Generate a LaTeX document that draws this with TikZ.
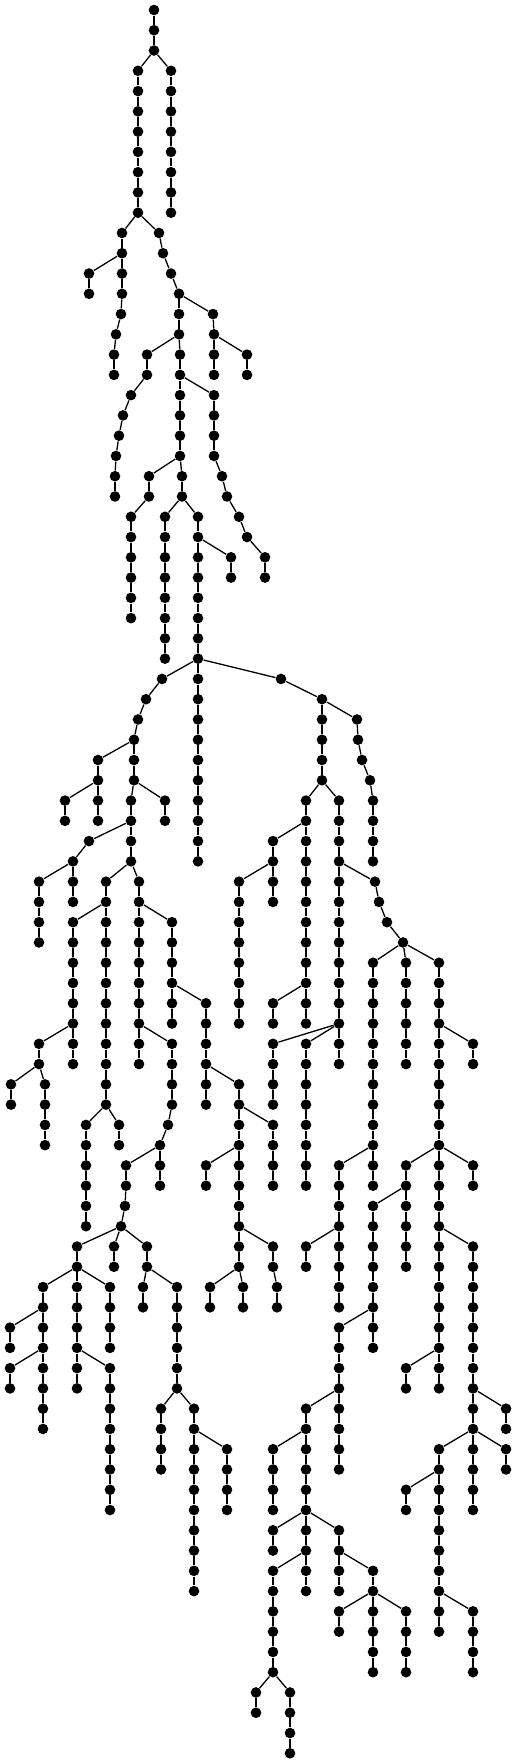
\documentclass[tikz,border=0pt]{standalone}
\usepackage{tikz}
\newcommand{\vtx}[2]{\node[vertex] (#1-#2) at (#2,#1) {};}  % layer, x
\tikzset{
  vertex/.style={
    circle,
    fill,
    inner sep=0pt,
    minimum size=5.3pt
  },
  tree edge/.style={
    draw,
    line width=0.65pt
  },
  layers/.style={
    x=0.5pt,      % one pixel
    y=-10.135pt   % one layer
  }
}
\begin{document}
\begin{tikzpicture}[layers]
\useasboundingbox (0,-0.4933) rectangle (516,86.48);
% Vertices, one line per layer
\vtx{0}{154}
\vtx{1}{154}
\vtx{2}{154}
\vtx{3}{138}\vtx{3}{171}
\vtx{4}{138}\vtx{4}{171}
\vtx{5}{138}\vtx{5}{171}
\vtx{6}{138}\vtx{6}{171}
\vtx{7}{138}\vtx{7}{171}
\vtx{8}{138}\vtx{8}{171}
\vtx{9}{138}\vtx{9}{171}
\vtx{10}{138}\vtx{10}{171}
\vtx{11}{122}\vtx{11}{159}
\vtx{12}{122}\vtx{12}{163}
\vtx{13}{89}\vtx{13}{122}\vtx{13}{171}
\vtx{14}{89}\vtx{14}{122}\vtx{14}{179}
\vtx{15}{121}\vtx{15}{179}\vtx{15}{213}
\vtx{16}{116}\vtx{16}{179}\vtx{16}{214}
\vtx{17}{114}\vtx{17}{147}\vtx{17}{180}\vtx{17}{214}\vtx{17}{247}
\vtx{18}{114}\vtx{18}{147}\vtx{18}{180}\vtx{18}{214}\vtx{18}{247}
\vtx{19}{131}\vtx{19}{180}\vtx{19}{214}
\vtx{20}{123}\vtx{20}{180}\vtx{20}{214}
\vtx{21}{119}\vtx{21}{180}\vtx{21}{214}
\vtx{22}{116}\vtx{22}{180}\vtx{22}{214}
\vtx{23}{115}\vtx{23}{149}\vtx{23}{182}\vtx{23}{222}
\vtx{24}{115}\vtx{24}{149}\vtx{24}{182}\vtx{24}{227}
\vtx{25}{131}\vtx{25}{165}\vtx{25}{198}\vtx{25}{239}
\vtx{26}{131}\vtx{26}{165}\vtx{26}{198}\vtx{26}{247}
\vtx{27}{131}\vtx{27}{165}\vtx{27}{198}\vtx{27}{231}\vtx{27}{265}
\vtx{28}{131}\vtx{28}{165}\vtx{28}{198}\vtx{28}{231}\vtx{28}{265}
\vtx{29}{131}\vtx{29}{165}\vtx{29}{198}
\vtx{30}{131}\vtx{30}{165}\vtx{30}{198}
\vtx{31}{165}\vtx{31}{198}
\vtx{32}{165}\vtx{32}{198}
\vtx{33}{162}\vtx{33}{198}\vtx{33}{281}
\vtx{34}{146}\vtx{34}{198}\vtx{34}{322}
\vtx{35}{138}\vtx{35}{198}\vtx{35}{322}\vtx{35}{357}
\vtx{36}{134}\vtx{36}{198}\vtx{36}{322}\vtx{36}{358}
\vtx{37}{98}\vtx{37}{134}\vtx{37}{198}\vtx{37}{322}\vtx{37}{362}
\vtx{38}{98}\vtx{38}{134}\vtx{38}{198}\vtx{38}{322}\vtx{38}{370}
\vtx{39}{65}\vtx{39}{98}\vtx{39}{131}\vtx{39}{165}\vtx{39}{198}\vtx{39}{306}\vtx{39}{339}\vtx{39}{373}
\vtx{40}{65}\vtx{40}{98}\vtx{40}{131}\vtx{40}{165}\vtx{40}{198}\vtx{40}{306}\vtx{40}{339}\vtx{40}{373}
\vtx{41}{89}\vtx{41}{131}\vtx{41}{198}\vtx{41}{273}\vtx{41}{306}\vtx{41}{339}\vtx{41}{373}
\vtx{42}{73}\vtx{42}{131}\vtx{42}{198}\vtx{42}{273}\vtx{42}{306}\vtx{42}{339}\vtx{42}{373}
\vtx{43}{39}\vtx{43}{73}\vtx{43}{106}\vtx{43}{139}\vtx{43}{239}\vtx{43}{273}\vtx{43}{306}\vtx{43}{339}\vtx{43}{375}
\vtx{44}{39}\vtx{44}{73}\vtx{44}{106}\vtx{44}{139}\vtx{44}{239}\vtx{44}{273}\vtx{44}{306}\vtx{44}{339}\vtx{44}{379}
\vtx{45}{39}\vtx{45}{73}\vtx{45}{106}\vtx{45}{139}\vtx{45}{172}\vtx{45}{239}\vtx{45}{306}\vtx{45}{339}\vtx{45}{387}
\vtx{46}{39}\vtx{46}{73}\vtx{46}{106}\vtx{46}{139}\vtx{46}{172}\vtx{46}{239}\vtx{46}{306}\vtx{46}{339}\vtx{46}{403}
\vtx{47}{73}\vtx{47}{106}\vtx{47}{139}\vtx{47}{172}\vtx{47}{239}\vtx{47}{306}\vtx{47}{339}\vtx{47}{373}\vtx{47}{406}\vtx{47}{439}
\vtx{48}{73}\vtx{48}{106}\vtx{48}{139}\vtx{48}{172}\vtx{48}{239}\vtx{48}{306}\vtx{48}{339}\vtx{48}{373}\vtx{48}{406}\vtx{48}{439}
\vtx{49}{73}\vtx{49}{106}\vtx{49}{139}\vtx{49}{172}\vtx{49}{206}\vtx{49}{239}\vtx{49}{273}\vtx{49}{306}\vtx{49}{339}\vtx{49}{373}\vtx{49}{406}\vtx{49}{439}
\vtx{50}{73}\vtx{50}{106}\vtx{50}{139}\vtx{50}{172}\vtx{50}{206}\vtx{50}{239}\vtx{50}{273}\vtx{50}{306}\vtx{50}{339}\vtx{50}{373}\vtx{50}{406}\vtx{50}{439}
\vtx{51}{39}\vtx{51}{73}\vtx{51}{106}\vtx{51}{139}\vtx{51}{172}\vtx{51}{206}\vtx{51}{273}\vtx{51}{306}\vtx{51}{339}\vtx{51}{373}\vtx{51}{406}\vtx{51}{439}\vtx{51}{473}
\vtx{52}{39}\vtx{52}{73}\vtx{52}{106}\vtx{52}{139}\vtx{52}{172}\vtx{52}{206}\vtx{52}{273}\vtx{52}{306}\vtx{52}{339}\vtx{52}{373}\vtx{52}{406}\vtx{52}{439}\vtx{52}{473}
\vtx{53}{11}\vtx{53}{45}\vtx{53}{106}\vtx{53}{172}\vtx{53}{206}\vtx{53}{239}\vtx{53}{273}\vtx{53}{306}\vtx{53}{373}\vtx{53}{439}
\vtx{54}{11}\vtx{54}{45}\vtx{54}{106}\vtx{54}{172}\vtx{54}{206}\vtx{54}{239}\vtx{54}{273}\vtx{54}{306}\vtx{54}{373}\vtx{54}{439}
\vtx{55}{45}\vtx{55}{86}\vtx{55}{119}\vtx{55}{168}\vtx{55}{239}\vtx{55}{273}\vtx{55}{306}\vtx{55}{373}\vtx{55}{439}
\vtx{56}{45}\vtx{56}{86}\vtx{56}{119}\vtx{56}{160}\vtx{56}{239}\vtx{56}{273}\vtx{56}{306}\vtx{56}{373}\vtx{56}{439}
\vtx{57}{86}\vtx{57}{126}\vtx{57}{160}\vtx{57}{206}\vtx{57}{239}\vtx{57}{273}\vtx{57}{306}\vtx{57}{339}\vtx{57}{373}\vtx{57}{406}\vtx{57}{439}\vtx{57}{473}
\vtx{58}{86}\vtx{58}{126}\vtx{58}{160}\vtx{58}{206}\vtx{58}{239}\vtx{58}{273}\vtx{58}{306}\vtx{58}{339}\vtx{58}{373}\vtx{58}{406}\vtx{58}{439}\vtx{58}{473}
\vtx{59}{86}\vtx{59}{125}\vtx{59}{239}\vtx{59}{339}\vtx{59}{373}\vtx{59}{406}\vtx{59}{439}
\vtx{60}{86}\vtx{60}{121}\vtx{60}{239}\vtx{60}{339}\vtx{60}{373}\vtx{60}{406}\vtx{60}{439}
\vtx{61}{77}\vtx{61}{114}\vtx{61}{147}\vtx{61}{239}\vtx{61}{273}\vtx{61}{306}\vtx{61}{339}\vtx{61}{373}\vtx{61}{406}\vtx{61}{439}\vtx{61}{473}
\vtx{62}{77}\vtx{62}{114}\vtx{62}{147}\vtx{62}{239}\vtx{62}{273}\vtx{62}{306}\vtx{62}{339}\vtx{62}{373}\vtx{62}{406}\vtx{62}{439}\vtx{62}{473}
\vtx{63}{43}\vtx{63}{77}\vtx{63}{110}\vtx{63}{143}\vtx{63}{177}\vtx{63}{210}\vtx{63}{243}\vtx{63}{277}\vtx{63}{339}\vtx{63}{373}\vtx{63}{439}\vtx{63}{473}
\vtx{64}{43}\vtx{64}{77}\vtx{64}{110}\vtx{64}{143}\vtx{64}{177}\vtx{64}{210}\vtx{64}{243}\vtx{64}{277}\vtx{64}{339}\vtx{64}{373}\vtx{64}{439}\vtx{64}{473}
\vtx{65}{10}\vtx{65}{43}\vtx{65}{77}\vtx{65}{110}\vtx{65}{177}\vtx{65}{339}\vtx{65}{373}\vtx{65}{439}\vtx{65}{473}
\vtx{66}{10}\vtx{66}{43}\vtx{66}{77}\vtx{66}{110}\vtx{66}{177}\vtx{66}{339}\vtx{66}{373}\vtx{66}{439}\vtx{66}{473}
\vtx{67}{10}\vtx{67}{43}\vtx{67}{77}\vtx{67}{110}\vtx{67}{177}\vtx{67}{339}\vtx{67}{406}\vtx{67}{439}\vtx{67}{473}
\vtx{68}{10}\vtx{68}{43}\vtx{68}{77}\vtx{68}{110}\vtx{68}{177}\vtx{68}{339}\vtx{68}{406}\vtx{68}{439}\vtx{68}{473}
\vtx{69}{43}\vtx{69}{110}\vtx{69}{161}\vtx{69}{194}\vtx{69}{306}\vtx{69}{339}\vtx{69}{473}\vtx{69}{506}
\vtx{70}{43}\vtx{70}{110}\vtx{70}{161}\vtx{70}{194}\vtx{70}{306}\vtx{70}{339}\vtx{70}{473}\vtx{70}{506}
\vtx{71}{110}\vtx{71}{161}\vtx{71}{194}\vtx{71}{227}\vtx{71}{273}\vtx{71}{306}\vtx{71}{339}\vtx{71}{439}\vtx{71}{473}\vtx{71}{506}
\vtx{72}{110}\vtx{72}{161}\vtx{72}{194}\vtx{72}{227}\vtx{72}{273}\vtx{72}{306}\vtx{72}{339}\vtx{72}{439}\vtx{72}{473}\vtx{72}{506}
\vtx{73}{110}\vtx{73}{194}\vtx{73}{227}\vtx{73}{273}\vtx{73}{306}\vtx{73}{406}\vtx{73}{439}\vtx{73}{473}
\vtx{74}{110}\vtx{74}{194}\vtx{74}{227}\vtx{74}{273}\vtx{74}{306}\vtx{74}{406}\vtx{74}{439}\vtx{74}{473}
\vtx{75}{194}\vtx{75}{273}\vtx{75}{306}\vtx{75}{339}\vtx{75}{439}
\vtx{76}{194}\vtx{76}{273}\vtx{76}{306}\vtx{76}{339}\vtx{76}{439}
\vtx{77}{194}\vtx{77}{273}\vtx{77}{306}\vtx{77}{339}\vtx{77}{373}\vtx{77}{439}
\vtx{78}{194}\vtx{78}{273}\vtx{78}{306}\vtx{78}{339}\vtx{78}{373}\vtx{78}{439}
\vtx{79}{273}\vtx{79}{339}\vtx{79}{373}\vtx{79}{406}\vtx{79}{439}\vtx{79}{473}
\vtx{80}{273}\vtx{80}{339}\vtx{80}{373}\vtx{80}{406}\vtx{80}{439}\vtx{80}{473}
\vtx{81}{273}\vtx{81}{373}\vtx{81}{406}\vtx{81}{473}
\vtx{82}{273}\vtx{82}{373}\vtx{82}{406}\vtx{82}{473}
\vtx{83}{256}\vtx{83}{290}
\vtx{84}{256}\vtx{84}{290}
\vtx{85}{290}
\vtx{86}{290}
% Edges, parent to child, one line per layer
\path[tree edge]
  (0-154) edge (1-154)
  (1-154) edge (2-154)
  (2-154) edge (3-138) (2-154) edge (3-171)
  (3-138) edge (4-138) (3-171) edge (4-171)
  (4-138) edge (5-138) (4-171) edge (5-171)
  (5-138) edge (6-138) (5-171) edge (6-171)
  (6-138) edge (7-138) (6-171) edge (7-171)
  (7-138) edge (8-138) (7-171) edge (8-171)
  (8-138) edge (9-138) (8-171) edge (9-171)
  (9-138) edge (10-138) (9-171) edge (10-171)
  (10-138) edge (11-122) (10-138) edge (11-159)
  (11-122) edge (12-122) (11-159) edge (12-163)
  (12-122) edge (13-89) (12-122) edge (13-122) (12-163) edge (13-171)
  (13-89) edge (14-89) (13-122) edge (14-122) (13-171) edge (14-179)
  (14-122) edge (15-121) (14-179) edge (15-179) (14-179) edge (15-213)
  (15-121) edge (16-116) (15-179) edge (16-179) (15-213) edge (16-214)
  (16-116) edge (17-114) (16-179) edge (17-147) (16-179) edge (17-180) (16-214) edge (17-214) (16-214) edge (17-247)
  (17-114) edge (18-114) (17-147) edge (18-147) (17-180) edge (18-180) (17-214) edge (18-214) (17-247) edge (18-247)
  (18-147) edge (19-131) (18-180) edge (19-180) (18-180) edge (19-214)
  (19-131) edge (20-123) (19-180) edge (20-180) (19-214) edge (20-214)
  (20-123) edge (21-119) (20-180) edge (21-180) (20-214) edge (21-214)
  (21-119) edge (22-116) (21-180) edge (22-180) (21-214) edge (22-214)
  (22-116) edge (23-115) (22-180) edge (23-149) (22-180) edge (23-182) (22-214) edge (23-222)
  (23-115) edge (24-115) (23-149) edge (24-149) (23-182) edge (24-182) (23-222) edge (24-227)
  (24-149) edge (25-131) (24-182) edge (25-165) (24-182) edge (25-198) (24-227) edge (25-239)
  (25-131) edge (26-131) (25-165) edge (26-165) (25-198) edge (26-198) (25-239) edge (26-247)
  (26-131) edge (27-131) (26-165) edge (27-165) (26-198) edge (27-198) (26-198) edge (27-231) (26-247) edge (27-265)
  (27-131) edge (28-131) (27-165) edge (28-165) (27-198) edge (28-198) (27-231) edge (28-231) (27-265) edge (28-265)
  (28-131) edge (29-131) (28-165) edge (29-165) (28-198) edge (29-198)
  (29-131) edge (30-131) (29-165) edge (30-165) (29-198) edge (30-198)
  (30-165) edge (31-165) (30-198) edge (31-198)
  (31-165) edge (32-165) (31-198) edge (32-198)
  (32-198) edge (33-162) (32-198) edge (33-198) (32-198) edge (33-281)
  (33-162) edge (34-146) (33-198) edge (34-198) (33-281) edge (34-322)
  (34-146) edge (35-138) (34-198) edge (35-198) (34-322) edge (35-322) (34-322) edge (35-357)
  (35-138) edge (36-134) (35-198) edge (36-198) (35-322) edge (36-322) (35-357) edge (36-358)
  (36-134) edge (37-98) (36-134) edge (37-134) (36-198) edge (37-198) (36-322) edge (37-322) (36-358) edge (37-362)
  (37-98) edge (38-98) (37-134) edge (38-134) (37-198) edge (38-198) (37-322) edge (38-322) (37-362) edge (38-370)
  (38-98) edge (39-65) (38-98) edge (39-98) (38-134) edge (39-131) (38-134) edge (39-165) (38-198) edge (39-198) (38-322) edge (39-306) (38-322) edge (39-339) (38-370) edge (39-373)
  (39-65) edge (40-65) (39-98) edge (40-98) (39-131) edge (40-131) (39-165) edge (40-165) (39-198) edge (40-198) (39-306) edge (40-306) (39-339) edge (40-339) (39-373) edge (40-373)
  (40-131) edge (41-89) (40-131) edge (41-131) (40-198) edge (41-198) (40-306) edge (41-273) (40-306) edge (41-306) (40-339) edge (41-339) (40-373) edge (41-373)
  (41-89) edge (42-73) (41-131) edge (42-131) (41-198) edge (42-198) (41-273) edge (42-273) (41-306) edge (42-306) (41-339) edge (42-339) (41-373) edge (42-373)
  (42-73) edge (43-39) (42-73) edge (43-73) (42-131) edge (43-106) (42-131) edge (43-139) (42-273) edge (43-239) (42-273) edge (43-273) (42-306) edge (43-306) (42-339) edge (43-339) (42-339) edge (43-375)
  (43-39) edge (44-39) (43-73) edge (44-73) (43-106) edge (44-106) (43-139) edge (44-139) (43-239) edge (44-239) (43-273) edge (44-273) (43-306) edge (44-306) (43-339) edge (44-339) (43-375) edge (44-379)
  (44-39) edge (45-39) (44-106) edge (45-73) (44-106) edge (45-106) (44-139) edge (45-139) (44-139) edge (45-172) (44-239) edge (45-239) (44-306) edge (45-306) (44-339) edge (45-339) (44-379) edge (45-387)
  (45-39) edge (46-39) (45-73) edge (46-73) (45-106) edge (46-106) (45-139) edge (46-139) (45-172) edge (46-172) (45-239) edge (46-239) (45-306) edge (46-306) (45-339) edge (46-339) (45-387) edge (46-403)
  (46-73) edge (47-73) (46-106) edge (47-106) (46-139) edge (47-139) (46-172) edge (47-172) (46-239) edge (47-239) (46-306) edge (47-306) (46-339) edge (47-339) (46-403) edge (47-373) (46-403) edge (47-406) (46-403) edge (47-439)
  (47-73) edge (48-73) (47-106) edge (48-106) (47-139) edge (48-139) (47-172) edge (48-172) (47-239) edge (48-239) (47-306) edge (48-306) (47-339) edge (48-339) (47-373) edge (48-373) (47-406) edge (48-406) (47-439) edge (48-439)
  (48-73) edge (49-73) (48-106) edge (49-106) (48-139) edge (49-139) (48-172) edge (49-172) (48-172) edge (49-206) (48-239) edge (49-239) (48-306) edge (49-273) (48-306) edge (49-306) (48-339) edge (49-339) (48-373) edge (49-373) (48-406) edge (49-406) (48-439) edge (49-439)
  (49-73) edge (50-73) (49-106) edge (50-106) (49-139) edge (50-139) (49-172) edge (50-172) (49-206) edge (50-206) (49-239) edge (50-239) (49-273) edge (50-273) (49-306) edge (50-306) (49-339) edge (50-339) (49-373) edge (50-373) (49-406) edge (50-406) (49-439) edge (50-439)
  (50-73) edge (51-39) (50-73) edge (51-73) (50-106) edge (51-106) (50-139) edge (51-139) (50-139) edge (51-172) (50-206) edge (51-206) (50-339) edge (51-273) (50-339) edge (51-306) (50-339) edge (51-339) (50-373) edge (51-373) (50-406) edge (51-406) (50-439) edge (51-439) (50-439) edge (51-473)
  (51-39) edge (52-39) (51-73) edge (52-73) (51-106) edge (52-106) (51-139) edge (52-139) (51-172) edge (52-172) (51-206) edge (52-206) (51-273) edge (52-273) (51-306) edge (52-306) (51-339) edge (52-339) (51-373) edge (52-373) (51-406) edge (52-406) (51-439) edge (52-439) (51-473) edge (52-473)
  (52-39) edge (53-11) (52-39) edge (53-45) (52-106) edge (53-106) (52-172) edge (53-172) (52-206) edge (53-206) (52-206) edge (53-239) (52-273) edge (53-273) (52-306) edge (53-306) (52-373) edge (53-373) (52-439) edge (53-439)
  (53-11) edge (54-11) (53-45) edge (54-45) (53-106) edge (54-106) (53-172) edge (54-172) (53-206) edge (54-206) (53-239) edge (54-239) (53-273) edge (54-273) (53-306) edge (54-306) (53-373) edge (54-373) (53-439) edge (54-439)
  (54-45) edge (55-45) (54-106) edge (55-86) (54-106) edge (55-119) (54-172) edge (55-168) (54-239) edge (55-239) (54-239) edge (55-273) (54-306) edge (55-306) (54-373) edge (55-373) (54-439) edge (55-439)
  (55-45) edge (56-45) (55-86) edge (56-86) (55-119) edge (56-119) (55-168) edge (56-160) (55-239) edge (56-239) (55-273) edge (56-273) (55-306) edge (56-306) (55-373) edge (56-373) (55-439) edge (56-439)
  (56-86) edge (57-86) (56-160) edge (57-126) (56-160) edge (57-160) (56-239) edge (57-206) (56-239) edge (57-239) (56-273) edge (57-273) (56-306) edge (57-306) (56-373) edge (57-339) (56-373) edge (57-373) (56-439) edge (57-406) (56-439) edge (57-439) (56-439) edge (57-473)
  (57-86) edge (58-86) (57-126) edge (58-126) (57-160) edge (58-160) (57-206) edge (58-206) (57-239) edge (58-239) (57-273) edge (58-273) (57-306) edge (58-306) (57-339) edge (58-339) (57-373) edge (58-373) (57-406) edge (58-406) (57-439) edge (58-439) (57-473) edge (58-473)
  (58-86) edge (59-86) (58-126) edge (59-125) (58-239) edge (59-239) (58-339) edge (59-339) (58-406) edge (59-373) (58-406) edge (59-406) (58-439) edge (59-439)
  (59-86) edge (60-86) (59-125) edge (60-121) (59-239) edge (60-239) (59-339) edge (60-339) (59-373) edge (60-373) (59-406) edge (60-406) (59-439) edge (60-439)
  (60-121) edge (61-77) (60-121) edge (61-114) (60-121) edge (61-147) (60-239) edge (61-239) (60-239) edge (61-273) (60-339) edge (61-306) (60-339) edge (61-339) (60-373) edge (61-373) (60-406) edge (61-406) (60-439) edge (61-439) (60-439) edge (61-473)
  (61-77) edge (62-77) (61-114) edge (62-114) (61-147) edge (62-147) (61-239) edge (62-239) (61-273) edge (62-273) (61-306) edge (62-306) (61-339) edge (62-339) (61-373) edge (62-373) (61-406) edge (62-406) (61-439) edge (62-439) (61-473) edge (62-473)
  (62-77) edge (63-43) (62-77) edge (63-77) (62-77) edge (63-110) (62-147) edge (63-143) (62-147) edge (63-177) (62-239) edge (63-210) (62-239) edge (63-243) (62-273) edge (63-277) (62-339) edge (63-339) (62-373) edge (63-373) (62-439) edge (63-439) (62-473) edge (63-473)
  (63-43) edge (64-43) (63-77) edge (64-77) (63-110) edge (64-110) (63-143) edge (64-143) (63-177) edge (64-177) (63-210) edge (64-210) (63-243) edge (64-243) (63-277) edge (64-277) (63-339) edge (64-339) (63-373) edge (64-373) (63-439) edge (64-439) (63-473) edge (64-473)
  (64-43) edge (65-10) (64-43) edge (65-43) (64-77) edge (65-77) (64-110) edge (65-110) (64-177) edge (65-177) (64-373) edge (65-339) (64-373) edge (65-373) (64-439) edge (65-439) (64-473) edge (65-473)
  (65-10) edge (66-10) (65-43) edge (66-43) (65-77) edge (66-77) (65-110) edge (66-110) (65-177) edge (66-177) (65-339) edge (66-339) (65-373) edge (66-373) (65-439) edge (66-439) (65-473) edge (66-473)
  (66-43) edge (67-10) (66-43) edge (67-43) (66-77) edge (67-77) (66-77) edge (67-110) (66-177) edge (67-177) (66-339) edge (67-339) (66-439) edge (67-406) (66-439) edge (67-439) (66-473) edge (67-473)
  (67-10) edge (68-10) (67-43) edge (68-43) (67-77) edge (68-77) (67-110) edge (68-110) (67-177) edge (68-177) (67-339) edge (68-339) (67-406) edge (68-406) (67-439) edge (68-439) (67-473) edge (68-473)
  (68-43) edge (69-43) (68-110) edge (69-110) (68-177) edge (69-161) (68-177) edge (69-194) (68-339) edge (69-306) (68-339) edge (69-339) (68-473) edge (69-473) (68-473) edge (69-506)
  (69-43) edge (70-43) (69-110) edge (70-110) (69-161) edge (70-161) (69-194) edge (70-194) (69-306) edge (70-306) (69-339) edge (70-339) (69-473) edge (70-473) (69-506) edge (70-506)
  (70-110) edge (71-110) (70-161) edge (71-161) (70-194) edge (71-194) (70-194) edge (71-227) (70-306) edge (71-273) (70-306) edge (71-306) (70-339) edge (71-339) (70-473) edge (71-439) (70-473) edge (71-473) (70-473) edge (71-506)
  (71-110) edge (72-110) (71-161) edge (72-161) (71-194) edge (72-194) (71-227) edge (72-227) (71-273) edge (72-273) (71-306) edge (72-306) (71-339) edge (72-339) (71-439) edge (72-439) (71-473) edge (72-473) (71-506) edge (72-506)
  (72-110) edge (73-110) (72-194) edge (73-194) (72-227) edge (73-227) (72-273) edge (73-273) (72-306) edge (73-306) (72-439) edge (73-406) (72-439) edge (73-439) (72-473) edge (73-473)
  (73-110) edge (74-110) (73-194) edge (74-194) (73-227) edge (74-227) (73-273) edge (74-273) (73-306) edge (74-306) (73-406) edge (74-406) (73-439) edge (74-439) (73-473) edge (74-473)
  (74-194) edge (75-194) (74-306) edge (75-273) (74-306) edge (75-306) (74-306) edge (75-339) (74-439) edge (75-439)
  (75-194) edge (76-194) (75-273) edge (76-273) (75-306) edge (76-306) (75-339) edge (76-339) (75-439) edge (76-439)
  (76-194) edge (77-194) (76-306) edge (77-273) (76-306) edge (77-306) (76-339) edge (77-339) (76-339) edge (77-373) (76-439) edge (77-439)
  (77-194) edge (78-194) (77-273) edge (78-273) (77-306) edge (78-306) (77-339) edge (78-339) (77-373) edge (78-373) (77-439) edge (78-439)
  (78-273) edge (79-273) (78-373) edge (79-339) (78-373) edge (79-373) (78-373) edge (79-406) (78-439) edge (79-439) (78-439) edge (79-473)
  (79-273) edge (80-273) (79-339) edge (80-339) (79-373) edge (80-373) (79-406) edge (80-406) (79-439) edge (80-439) (79-473) edge (80-473)
  (80-273) edge (81-273) (80-373) edge (81-373) (80-406) edge (81-406) (80-473) edge (81-473)
  (81-273) edge (82-273) (81-373) edge (82-373) (81-406) edge (82-406) (81-473) edge (82-473)
  (82-273) edge (83-256) (82-273) edge (83-290)
  (83-256) edge (84-256) (83-290) edge (84-290)
  (84-290) edge (85-290)
  (85-290) edge (86-290);
\end{tikzpicture}
\end{document}
